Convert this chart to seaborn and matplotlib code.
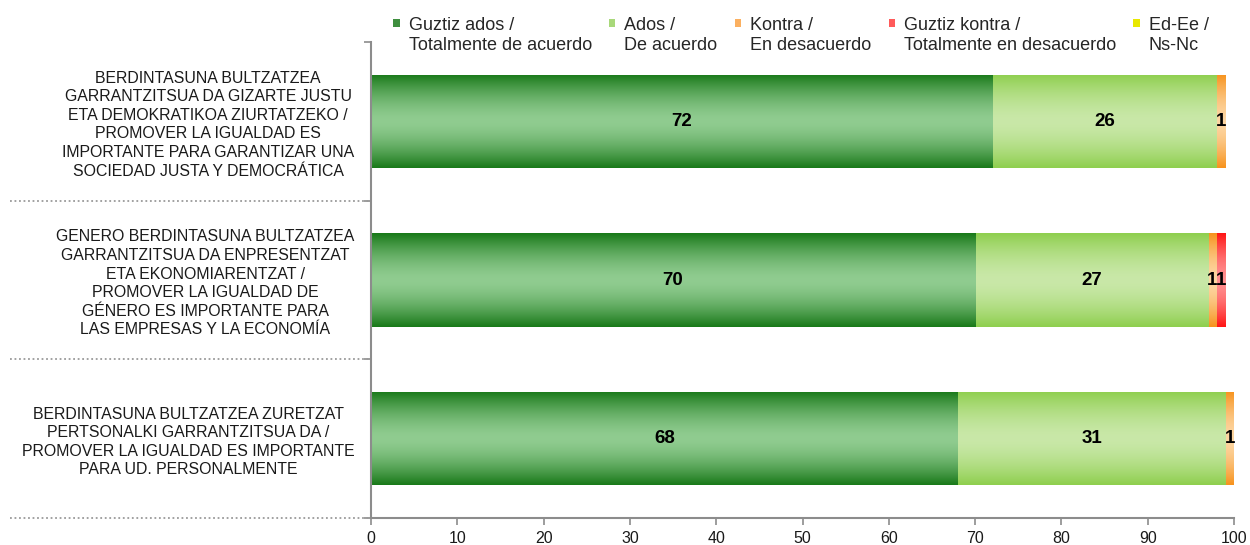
import numpy as np
import matplotlib
matplotlib.use("Agg")
import matplotlib.pyplot as plt
import matplotlib.transforms as mtransforms
import seaborn as sns
from matplotlib.patches import Patch, Rectangle
from matplotlib.legend_handler import HandlerPatch
from matplotlib.colors import to_rgb

# data
categories = [
    "BERDINTASUNA BULTZATZEA\nGARRANTZITSUA DA GIZARTE JUSTU\nETA DEMOKRATIKOA ZIURTATZEKO /\n"
    "PROMOVER LA IGUALDAD ES\nIMPORTANTE PARA GARANTIZAR UNA\nSOCIEDAD JUSTA Y DEMOCRÁTICA",
    "GENERO BERDINTASUNA BULTZATZEA\nGARRANTZITSUA DA ENPRESENTZAT\nETA EKONOMIARENTZAT /\n"
    "PROMOVER LA IGUALDAD DE\nGÉNERO ES IMPORTANTE PARA\nLAS EMPRESAS Y LA ECONOMÍA",
    "BERDINTASUNA BULTZATZEA ZURETZAT\nPERTSONALKI GARRANTZITSUA DA /\n"
    "PROMOVER LA IGUALDAD ES IMPORTANTE\nPARA UD. PERSONALMENTE",
]
series_labels = [
    "Guztiz ados /\nTotalmente de acuerdo",
    "Ados /\nDe acuerdo",
    "Kontra /\nEn desacuerdo",
    "Guztiz kontra /\nTotalmente en desacuerdo",
    "Ed-Ee /\nNs-Nc",
]
guztiz_ados = [72, 70, 68]
ados = [26, 27, 31]
kontra = [1, 1, 1]
guztiz_kontra = [0, 1, 0]
ed_ee = [0, 0, 0]

# colours: bar edge (dark) and bar middle (light) for the gradient
edge_colors = ["#1a7a1a", "#8fcf4f", "#f7931e", "#ff1616", "#e6e600"]
mid_colors = ["#90cc90", "#c9e8a8", "#fdd6a2", "#ff9090", "#ffff80"]
legend_colors = ["#3f8f3f", "#a8d87a", "#fbb060", "#ff5a5a", "#e8e800"]

sns.set_theme(style="white")
plt.rcParams["font.family"] = ["Liberation Sans", "DejaVu Sans"]

values = np.array([guztiz_ados, ados, kontra, guztiz_kontra, ed_ee]).T
cum = np.cumsum(values, axis=1)
starts = cum - values

fig = plt.figure(figsize=(12.5, 5.45), dpi=100)
ax = fig.add_axes([0.2968, 0.0495, 0.6904, 0.8734])


def gradient(edge, mid, n=64):
    t = np.abs(np.linspace(-1, 1, n)) ** 1.6
    e = np.array(to_rgb(edge))
    m = np.array(to_rgb(mid))
    g = m[None, :] * (1 - t[:, None]) + e[None, :] * t[:, None]
    return g[:, None, :]


# stacked bars drawn as overlapping cumulative bars, longest first
layer = 0
for i in reversed(range(len(series_labels))):
    n_before = len(ax.patches)
    sns.barplot(x=cum[:, i], y=categories, orient="h", color=edge_colors[i],
                saturation=1, width=0.59, errorbar=None, ax=ax)
    grad = gradient(edge_colors[i], mid_colors[i])
    for p in ax.patches[n_before:]:
        x0, y0, w, h = p.get_x(), p.get_y(), p.get_width(), p.get_height()
        if w <= 0:
            continue
        im = ax.imshow(grad, extent=[x0, x0 + w, y0 + h, y0], aspect="auto",
                       interpolation="bilinear", zorder=2 + layer * 0.01)
        im.set_clip_path(p)
    layer += 1

# value labels
for i in range(len(series_labels)):
    for j in range(len(categories)):
        v = values[j, i]
        if v > 0:
            ax.text(starts[j, i] + v / 2, j, str(v), ha="center", va="center",
                    fontsize=13.5, fontweight="bold", color="black", zorder=10)

ax.set_xlim(0, 100)
ax.set_ylim(2.5, -0.5)
ax.set_xticks(range(0, 101, 10))
ax.set_yticks(range(len(categories)))
ax.set_yticklabels(categories, multialignment="center", fontsize=11.4,
                   color="#1a1a1a", linespacing=1.3)
ax.set_yticks([-0.5, 0.5, 1.5, 2.5], minor=True)
ax.set_xlabel("")
ax.set_ylabel("")
ax.tick_params(axis="x", bottom=True, length=5, width=1.2, color="#8c8c8c",
               labelsize=11.5, labelcolor="#1a1a1a", pad=4)
ax.tick_params(axis="y", which="major", left=False, length=0, pad=12)
ax.tick_params(axis="y", which="minor", left=True, length=5, width=1.2, color="#8c8c8c")
for side in ["top", "right"]:
    ax.spines[side].set_visible(False)
for side in ["left", "bottom"]:
    ax.spines[side].set_color("#8c8c8c")
    ax.spines[side].set_linewidth(1.5)
    ax.spines[side].set_zorder(20)

# dotted separators between the categories
trans = mtransforms.blended_transform_factory(ax.transAxes, ax.transData)
for yb in [0.5, 1.5, 2.5]:
    ax.plot([-0.418, 0], [yb, yb], transform=trans, ls=(0, (1, 1.5)),
            color="#9a9a9a", lw=1.3, clip_on=False)


def top_square(legend, orig_handle, xdescent, ydescent, width, height, fontsize):
    return Rectangle((-xdescent, -ydescent + fontsize * 0.72), width, height * 0.85)


handles = [Patch(facecolor=c, edgecolor="none") for c in legend_colors]
fig.legend(handles, series_labels, loc="upper left", bbox_to_anchor=(0.3075, 0.985),
           ncol=5, frameon=False, fontsize=13, handlelength=0.35, handleheight=0.4,
           handletextpad=0.5, columnspacing=0.95, borderpad=0, labelspacing=0,
           handler_map={Patch: HandlerPatch(patch_func=top_square)})

fig.savefig("out.png", dpi=100)
